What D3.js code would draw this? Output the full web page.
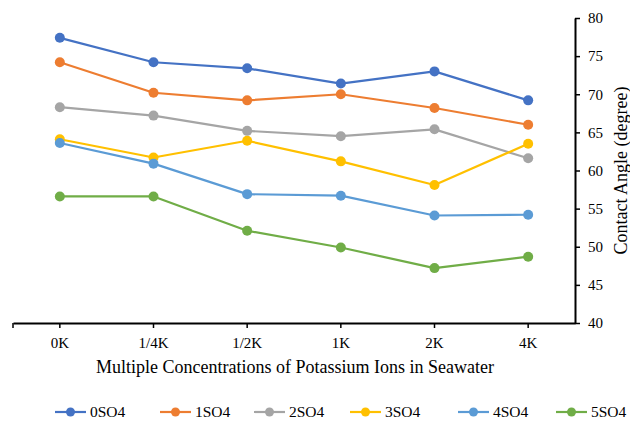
<!DOCTYPE html>
<html>
<head>
<meta charset="utf-8">
<script src="https://cdn.jsdelivr.net/npm/d3@7"></script>
<style>
  html, body { margin: 0; padding: 0; background: #fff; }
  svg { display: block; }
  text { font-family: "Liberation Serif", "Times New Roman", serif; fill: #000; }
</style>
</head>
<body>
<script>
// Contact angle by potassium concentration, one series per sulfate level
const categories = ["0K", "1/4K", "1/2K", "1K", "2K", "4K"];
const seriesNames = ["0SO4", "1SO4", "2SO4", "3SO4", "4SO4", "5SO4"];
const s0 = [77.4, 74.2, 73.4, 71.4, 73.0, 69.2];
const s1 = [74.2, 70.2, 69.2, 70.0, 68.2, 66.0];
const s2 = [68.3, 67.2, 65.2, 64.5, 65.4, 61.6];
const s3 = [64.1, 61.7, 63.9, 61.2, 58.1, 63.5];
const s4 = [63.6, 60.9, 56.9, 56.7, 54.1, 54.2];
const s5 = [56.6, 56.6, 52.1, 49.9, 47.2, 48.7];
const yTicks = [40, 45, 50, 55, 60, 65, 70, 75, 80];
const colors = ["#4472C4", "#ED7D31", "#A5A5A5", "#FFC000", "#5B9BD5", "#70AD47"];
const xTitle = "Multiple Concentrations of Potassium Ions in Seawater";
const yTitle = "Contact Angle (degree)";

const series = [s0, s1, s2, s3, s4, s5].map((v, i) => ({ name: seriesNames[i], values: v, color: colors[i] }));

const W = 630, H = 422;
const plotL = 13, plotR = 575, plotT = 18, plotB = 323;

const svg = d3.select("body").append("svg").attr("width", W).attr("height", H);

const x = d3.scaleBand().domain(categories).range([plotL, plotR]).paddingInner(0).paddingOuter(0);
const y = d3.scaleLinear().domain([40, 80]).range([plotB, plotT]);
const cx = c => x(c) + x.bandwidth() / 2;

// lines and markers
const line = d3.line().x((d, i) => cx(categories[i])).y(d => y(d));
const g = svg.append("g");
series.forEach(s => {
  g.append("path").attr("d", line(s.values)).attr("fill", "none")
    .attr("stroke", s.color).attr("stroke-width", 2.2).attr("stroke-linejoin", "round");
  g.selectAll(null).data(s.values).enter().append("circle")
    .attr("cx", (d, i) => cx(categories[i])).attr("cy", d => y(d)).attr("r", 5)
    .attr("fill", s.color);
});

// x axis along the bottom
const xAxis = svg.append("g").attr("transform", `translate(0,${plotB})`)
  .call(d3.axisBottom(x).tickSize(5).tickPadding(9).tickSizeOuter(0));
xAxis.select(".domain").attr("stroke", "#000").attr("stroke-width", 2);
xAxis.selectAll(".tick line").attr("stroke", "#000").attr("stroke-width", 1.5);
xAxis.selectAll(".tick text").attr("font-size", 15).attr("font-family", "Liberation Serif").attr("fill", "#000");
xAxis.append("line").attr("x1", plotL).attr("x2", plotL).attr("y1", 0).attr("y2", 5)
  .attr("stroke", "#000").attr("stroke-width", 1.5);

// y axis on the right
const yAxis = svg.append("g").attr("transform", `translate(${plotR},0)`)
  .call(d3.axisRight(y).tickValues(yTicks).tickSize(5).tickPadding(8).tickSizeOuter(0));
yAxis.select(".domain").attr("stroke", "#000").attr("stroke-width", 2);
yAxis.selectAll(".tick line").attr("stroke", "#000").attr("stroke-width", 1.5);
yAxis.selectAll(".tick text").attr("font-size", 15).attr("font-family", "Liberation Serif").attr("fill", "#000");

// axis titles
svg.append("text").attr("x", (plotL + plotR) / 2 + 1).attr("y", 373)
  .attr("text-anchor", "middle").attr("font-size", 18).text(xTitle);
svg.append("text").attr("transform", `translate(627,${(plotT + plotB) / 2}) rotate(-90)`)
  .attr("text-anchor", "middle").attr("font-size", 18).text(yTitle);

// legend
const legendX = [55, 160, 254, 350, 458, 556];
const lg = svg.append("g").attr("transform", "translate(0,412)");
series.forEach((s, i) => {
  const it = lg.append("g").attr("transform", `translate(${legendX[i]},0)`);
  it.append("line").attr("x1", 0).attr("x2", 31).attr("y1", 0).attr("y2", 0)
    .attr("stroke", s.color).attr("stroke-width", 2.2);
  it.append("circle").attr("cx", 15.5).attr("cy", 0).attr("r", 4.5).attr("fill", s.color);
  it.append("text").attr("x", 35).attr("y", 5).attr("font-size", 15.5).text(s.name);
});
</script>
</body>
</html>
